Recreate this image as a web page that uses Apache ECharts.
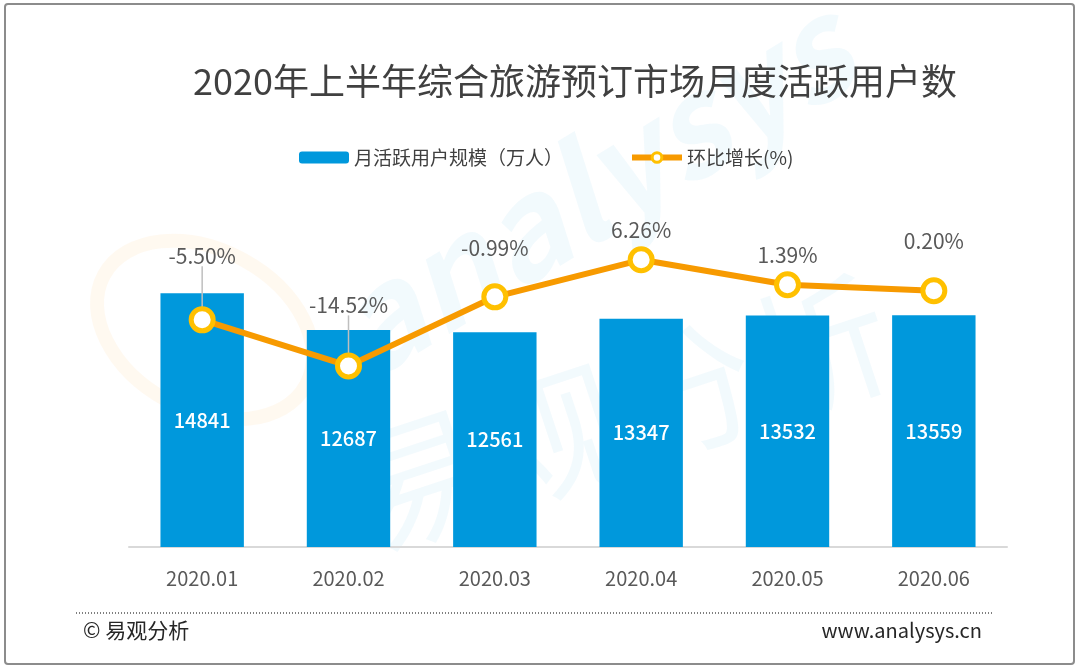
<!DOCTYPE html>
<html lang="zh-CN">
<head>
  <meta charset="UTF-8" />
  <title>2020年上半年综合旅游预订市场月度活跃用户数</title>
  <script src="https://cdn.jsdelivr.net/npm/echarts@6.0.0/dist/echarts.min.js"></script>
  <style>
    html, body { margin: 0; padding: 0; background: #fff; }
    #chart { width: 1080px; height: 668px; }
  </style>
</head>
<body>
  <div id="chart"></div>
  <script>
    // 数据
    const months = ['2020.01', '2020.02', '2020.03', '2020.04', '2020.05', '2020.06'];
    const activeUsers = [14841, 12687, 12561, 13347, 13532, 13559];
    const momGrowth = [-5.50, -14.52, -0.99, 6.26, 1.39, 0.20];

    // 百分比标签上移量（像素）及是否画引导线
    const labelShift = [-34, -31, -19, 0, 0, -20];
    const showLeader = [true, true, false, false, false, false];

    const FONT = '"Noto Sans CJK SC", "Noto Sans", sans-serif';

    const chart = echarts.init(document.getElementById('chart'));

    chart.setOption({
      backgroundColor: '#fff',
      textStyle: { fontFamily: FONT },
      title: {
        text: '2020年上半年综合旅游预订市场月度活跃用户数',
        left: 188,
        top: 58,
        textStyle: { fontSize: 36, fontWeight: 'normal', color: '#404040', fontFamily: FONT }
      },
      legend: {
        left: 294,
        top: 143,
        itemWidth: 50,
        itemHeight: 12,
        itemGap: 66,
        textStyle: { fontSize: 19, color: '#404040', fontFamily: FONT },
        data: [
          { name: '月活跃用户规模（万人）' },
          { name: '环比增长(%)', lineStyle: { width: 6 }, itemStyle: { borderWidth: 3 } }
        ]
      },
      grid: { left: 129, right: 73, top: 205, bottom: 121 },
      xAxis: {
        type: 'category',
        data: months,
        axisTick: { show: false },
        axisLine: { lineStyle: { color: '#d9d9d9', width: 2 } },
        axisLabel: { fontSize: 20, color: '#595959', margin: 21, fontFamily: FONT }
      },
      yAxis: [
        { type: 'value', min: 0, max: 20000, show: false, splitLine: { show: false } },
        { type: 'value', min: -50, max: 17, show: false, splitLine: { show: false } }
      ],
      graphic: [
        // 外框
        {
          type: 'rect', z: 100,
          shape: { x: 5, y: 4, width: 1069, height: 660, r: 3 },
          style: { fill: 'none', stroke: '#8c8c8c', lineWidth: 2 }
        },
        // 水印
        {
          type: 'text', z: -10, x: 310, y: 280, rotation: 0.55,
          style: { text: 'analysys', fontSize: 135, fontStyle: 'italic', fontWeight: 'bold',
                   fontFamily: FONT, fill: 'rgba(0,150,222,0.05)' }
        },
        {
          type: 'text', z: -10, x: 332, y: 435, rotation: 0.32,
          style: { text: '易观分析', fontSize: 140, fontFamily: FONT,
                   fill: 'rgba(0,150,222,0.05)' }
        },
        {
          type: 'ellipse', z: -10,
          shape: { cx: 205, cy: 330, rx: 115, ry: 80 },
          rotation: -0.5, originX: 205, originY: 330,
          style: { fill: 'none', stroke: 'rgba(255,153,0,0.06)', lineWidth: 14 }
        },
        // 底部虚线与落款
        {
          type: 'line', z: 100,
          shape: { x1: 76, y1: 613, x2: 993, y2: 613 },
          style: { stroke: '#7f7f7f', lineWidth: 2, lineDash: [1, 2] }
        },
        {
          type: 'text', z: 100, left: 83, top: 620,
          style: { text: '© 易观分析', fontSize: 21, fill: '#262626', fontFamily: FONT }
        },
        {
          type: 'text', z: 100, right: 98, top: 620,
          style: { text: 'www.analysys.cn', fontSize: 20, fill: '#262626', fontFamily: FONT }
        }
      ],
      series: [
        {
          name: '月活跃用户规模（万人）',
          type: 'bar',
          data: activeUsers,
          barWidth: '57%',
          itemStyle: { color: '#0098DC' },
          label: {
            show: true,
            position: 'inside',
            color: '#fff',
            fontSize: 20,
            fontWeight: 500,
            fontFamily: FONT
          }
        },
        {
          name: '环比增长(%)',
          type: 'line',
          yAxisIndex: 1,
          data: momGrowth.map((v, i) => ({ value: v, labelLine: { show: showLeader[i] } })),
          symbol: 'circle',
          symbolSize: 22,
          z: 5,
          lineStyle: { color: '#F79A00', width: 6 },
          itemStyle: { color: '#fff', borderColor: '#FFC000', borderWidth: 5 },
          label: {
            show: true,
            position: 'top',
            distance: 6,
            fontSize: 21,
            color: '#595959',
            fontFamily: FONT,
            formatter: p => p.value.toFixed(2) + '%'
          },
          labelLine: { show: true, lineStyle: { color: '#bfbfbf', width: 1.5 } },
          labelLayout: function (params) {
            return { dy: labelShift[params.dataIndex] };
          }
        }
      ]
    });
  </script>
</body>
</html>
